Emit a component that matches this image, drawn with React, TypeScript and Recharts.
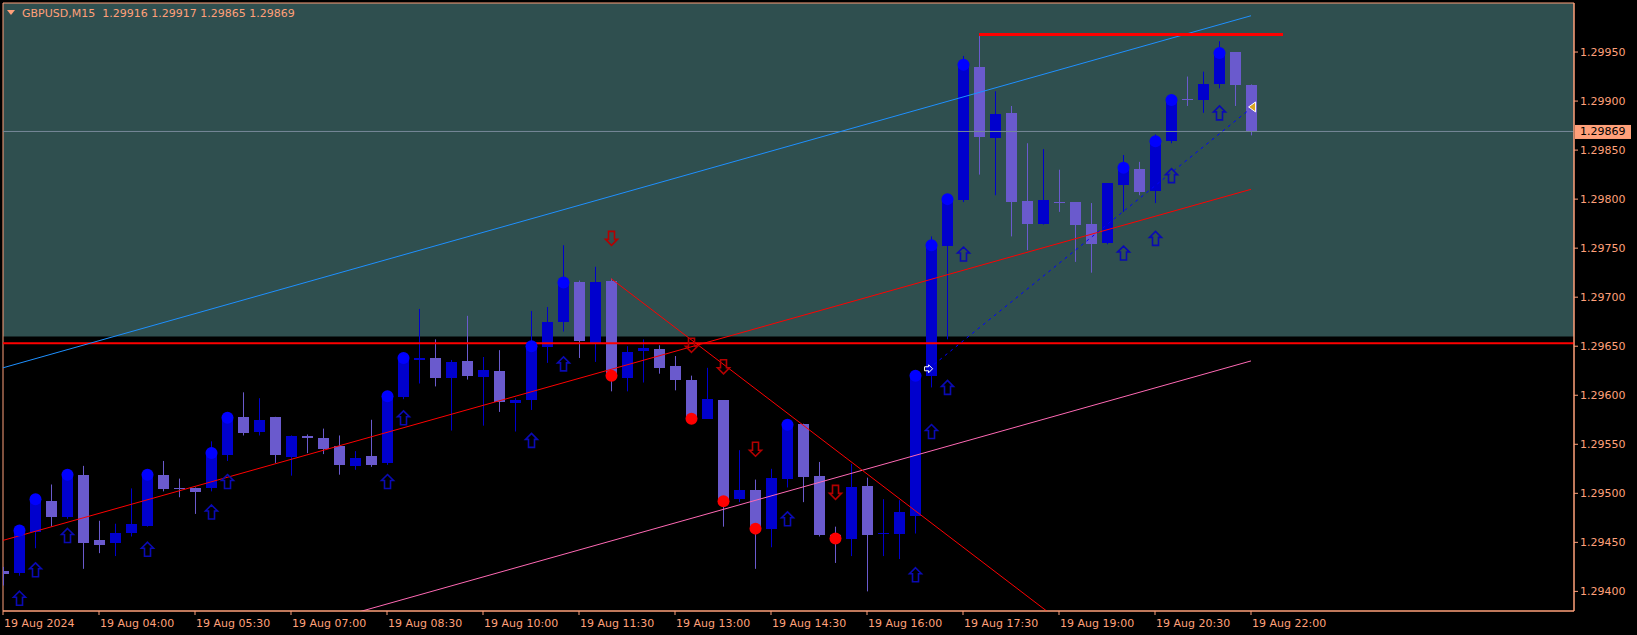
import React from 'react';
import {
  ComposedChart,
  Bar,
  Line,
  Scatter,
  XAxis,
  YAxis,
  ReferenceArea,
  ReferenceLine,
} from 'recharts';

// GBPUSD M15, bars 0..78 (02:30 .. 22:00)
const opens = [
  1.29421, 1.29419, 1.29461, 1.29492, 1.29476, 1.29519, 1.29452, 1.29449, 1.2946, 1.29467,
  1.29519, 1.29505, 1.29505, 1.29505, 1.29539, 1.29578, 1.29563, 1.29578, 1.29537, 1.29558,
  1.29556, 1.29548, 1.29528, 1.29538, 1.29531, 1.29598, 1.29636, 1.29638, 1.29618, 1.29635,
  1.29619, 1.29625, 1.29592, 1.29595, 1.29649, 1.29675, 1.29715, 1.29653, 1.29717, 1.29618,
  1.29645, 1.29647, 1.2963, 1.29616, 1.29576, 1.29595, 1.29494, 1.29503, 1.29464, 1.29515,
  1.29571, 1.29518, 1.29457, 1.29453, 1.29507, 1.29459, 1.29459, 1.29477, 1.2962, 1.29752,
  1.29799, 1.29935, 1.29862, 1.29888, 1.29798, 1.29775, 1.29797, 1.29797, 1.29775, 1.29755,
  1.29814, 1.29831, 1.29808, 1.29859, 1.29902, 1.29901, 1.29917, 1.2995, 1.29916,
];
const highs = [
  1.29425, 1.29466, 1.29498, 1.29509, 1.29523, 1.29528, 1.29472, 1.29469, 1.29505, 1.29522,
  1.29533, 1.29515, 1.29506, 1.29553, 1.2958, 1.29603, 1.29597, 1.29578, 1.29559, 1.2956,
  1.29566, 1.29559, 1.29543, 1.29575, 1.29602, 1.29641, 1.29688, 1.29657, 1.29636, 1.29681,
  1.29639, 1.29646, 1.29597, 1.29686, 1.2969, 1.29753, 1.29717, 1.29731, 1.29719, 1.2965,
  1.29657, 1.29651, 1.2964, 1.2962, 1.29628, 1.29595, 1.29544, 1.29514, 1.29525, 1.29572,
  1.29571, 1.29532, 1.29466, 1.2953, 1.29516, 1.29494, 1.29493, 1.29624, 1.29762, 1.29804,
  1.29946, 1.29968, 1.2991, 1.29895, 1.29857, 1.29851, 1.2983, 1.29797, 1.29796, 1.29816,
  1.29845, 1.29838, 1.29866, 1.29905, 1.29925, 1.2993, 1.29961, 1.2995, 1.29917,
];
const lows = [
  1.29406, 1.29416, 1.29444, 1.29466, 1.29474, 1.29423, 1.29439, 1.29436, 1.29456, 1.29466,
  1.29502, 1.29496, 1.29479, 1.29502, 1.29533, 1.29559, 1.29559, 1.29531, 1.29518, 1.29541,
  1.2954, 1.29519, 1.29524, 1.29527, 1.29529, 1.29596, 1.29612, 1.29609, 1.29564, 1.29616,
  1.29569, 1.29583, 1.29563, 1.29585, 1.29633, 1.29665, 1.29638, 1.29634, 1.29604, 1.29604,
  1.29613, 1.29622, 1.29605, 1.29573, 1.29576, 1.29466, 1.29491, 1.29423, 1.29445, 1.29506,
  1.29491, 1.29456, 1.29429, 1.29436, 1.294, 1.29436, 1.29433, 1.29459, 1.29608, 1.29657,
  1.29797, 1.29825, 1.29804, 1.29762, 1.29748, 1.29774, 1.29787, 1.29736, 1.29725, 1.29754,
  1.29787, 1.29804, 1.29796, 1.29857, 1.29895, 1.29888, 1.29913, 1.29895, 1.29865,
];
const closes = [
  1.29418, 1.29462, 1.29494, 1.29476, 1.29519, 1.29449, 1.29447, 1.2946, 1.29469, 1.29519,
  1.29504, 1.29504, 1.29501, 1.29541, 1.29577, 1.29562, 1.29575, 1.29539, 1.29558, 1.29556,
  1.29545, 1.29529, 1.29536, 1.29529, 1.29599, 1.29638, 1.29638, 1.29618, 1.29634, 1.2962,
  1.29626, 1.29593, 1.29595, 1.2965, 1.29675, 1.29715, 1.29655, 1.29716, 1.2962, 1.29644,
  1.29648, 1.29628, 1.29616, 1.29576, 1.29596, 1.29492, 1.29503, 1.29464, 1.29516, 1.2957,
  1.29517, 1.29457, 1.29454, 1.29506, 1.29457, 1.2946, 1.29481, 1.2962, 1.29753, 1.298,
  1.29937, 1.29863, 1.29887, 1.29797, 1.29775, 1.29799, 1.29796, 1.29774, 1.29754, 1.29816,
  1.29832, 1.29807, 1.29859, 1.29901, 1.29901, 1.29917, 1.29949, 1.29916, 1.29869,
];

// signal markers
const upBars = [1, 2, 4, 9, 13, 14, 24, 25, 33, 35, 49, 57, 58, 59, 60, 70, 72, 73, 76];
const upArrowPrices = [
  1.29393, 1.29422, 1.29457, 1.29443, 1.29481, 1.29512, 1.29512, 1.29577, 1.29554, 1.29632,
  1.29474, 1.29417, 1.29563, 1.29608, 1.29744, 1.29745, 1.2976, 1.29824, 1.29888,
];
const downBars = [38, 43, 45, 47, 52];
const downArrowPrices = [1.2976, 1.29651, 1.29629, 1.29545, 1.29501];

// trend objects: [bar, price]
const channelUpper = [[0, 1.29628], [78, 1.29987]];
const channelMid = [[0, 1.29452], [78, 1.2981]];
const channelLower = [[0, 1.29277], [78, 1.29635]];
const downTrend = [[38, 1.29719], [78, 1.29221]];
const projection = [[57.85, 1.29627], [78.1, 1.29894]];
const dayHigh = [[61, 1.29968], [80, 1.29968]];
const supportLevel = 1.29653;
const zoneBottom = 1.2966;
const bidPrice = 1.29869;

const tickBars = [0, 6, 12, 18, 24, 30, 36, 42, 48, 54, 60, 66, 72, 78];
const tickLabels = [
  '19 Aug 2024', '19 Aug 04:00', '19 Aug 05:30', '19 Aug 07:00', '19 Aug 08:30',
  '19 Aug 10:00', '19 Aug 11:30', '19 Aug 13:00', '19 Aug 14:30', '19 Aug 16:00',
  '19 Aug 17:30', '19 Aug 19:00', '19 Aug 20:30', '19 Aug 22:00',
];
const priceTicks = [
  1.294, 1.2945, 1.295, 1.2955, 1.296, 1.2965, 1.297, 1.2975, 1.298, 1.2985, 1.299, 1.2995,
];

const X_MAX = 98.1875;
const Y_MIN = 1.2938;
const Y_MAX = 1.3;
const AXIS = '#FFA07A';
const BULL = '#0000CD';
const BEAR = '#6A5ACD';
const FONT = '"DejaVu Sans", sans-serif';

const candles = opens.map((o, i) => ({ i, o, h: highs[i], l: lows[i], c: closes[i] }));
const toPts = (arr: number[][]) => arr.map(([i, p]) => ({ i, p }));
const bullDots = upBars.map((i) => ({ i, p: closes[i] }));
const bearDots = downBars.map((i) => ({ i, p: closes[i] }));
const upArrows = upBars.map((i, k) => ({ i, p: upArrowPrices[k] }));
const downArrows = downBars.map((i, k) => ({ i, p: downArrowPrices[k] }));

const Candle = (props: any) => {
  const { x, y, width, height, payload } = props;
  if (!payload) return null;
  const { o, h, l, c } = payload;
  const top = Math.min(y, y + height);
  const span = Math.abs(height);
  const py = (v: number) => top + ((h - v) / (h - l || 1e-9)) * span;
  const cx = Math.round(x + width / 2);
  const b1 = Math.round(py(Math.max(o, c)));
  const b2 = Math.round(py(Math.min(o, c)));
  const color = c >= o ? BULL : BEAR;
  return (
    <g>
      <line x1={cx + 0.5} x2={cx + 0.5} y1={top} y2={top + span} stroke={color} strokeWidth={1} />
      <rect x={cx - 5} y={b1} width={11} height={Math.max(b2 - b1, 1)} fill={color} />
    </g>
  );
};

const Dot = (color: string) => (props: any) => (
  <circle cx={props.cx + 0.5} cy={props.cy} r={6} fill={color} />
);

const UpArrow = (props: any) => {
  const { cx, cy } = props;
  const x = cx + 0.5;
  const pts = [
    [x, cy - 7], [x + 6, cy - 1], [x + 3, cy - 1], [x + 3, cy + 7],
    [x - 3, cy + 7], [x - 3, cy - 1], [x - 6, cy - 1],
  ];
  return <polygon points={pts.map((q) => q.join(',')).join(' ')} fill="none" stroke="#0A0AB4" strokeWidth={1.6} />;
};

const DownArrow = (props: any) => {
  const { cx, cy } = props;
  const x = cx + 0.5;
  const pts = [
    [x, cy + 7], [x + 6, cy + 1], [x + 3, cy + 1], [x + 3, cy - 7],
    [x - 3, cy - 7], [x - 3, cy + 1], [x - 6, cy + 1],
  ];
  return <polygon points={pts.map((q) => q.join(',')).join(' ')} fill="none" stroke="#B40000" strokeWidth={1.6} />;
};

const StartMark = (props: any) => {
  const { cx, cy } = props;
  const pts = [[cx + 4, cy], [cx, cy - 4], [cx, cy - 2], [cx - 4, cy - 2], [cx - 4, cy + 2], [cx, cy + 2], [cx, cy + 4]];
  return <polygon points={pts.map((q) => q.join(',')).join(' ')} fill="none" stroke="#FFFFFF" strokeWidth={1} />;
};

const EndMark = (props: any) => {
  const { cx, cy } = props;
  const pts = [[cx - 4, cy], [cx + 3, cy - 5], [cx + 3, cy + 5]];
  return <polygon points={pts.map((q) => q.join(',')).join(' ')} fill="#DAA520" stroke="#FFFFFF" strokeWidth={1} />;
};

const TimeTick = (props: any) => {
  const { x, y, payload } = props;
  const k = tickBars.indexOf(payload.value);
  return (
    <text x={x + 1} y={y + 9.5} fill={AXIS} fontSize={11} fontFamily={FONT} textAnchor="start">
      {tickLabels[k]}
    </text>
  );
};

const PriceTick = (props: any) => {
  const { x, y, payload } = props;
  return (
    <text x={x} y={y + 4} fill={AXIS} fontSize={11} fontFamily={FONT} textAnchor="start">
      {Number(payload.value).toFixed(5)}
    </text>
  );
};

const BidLabel = (props: any) => {
  const { viewBox } = props;
  if (!viewBox) return null;
  const x = viewBox.x + viewBox.width;
  const y = viewBox.y;
  return (
    <g>
      <rect x={x + 1} y={y - 6.5} width={56} height={14} fill={AXIS} />
      <text x={x + 6} y={y + 4} fill="#000" fontSize={11} fontFamily={FONT}>
        {bidPrice.toFixed(5)}
      </text>
    </g>
  );
};

const App = () => {
  return (
    <div style={{ position: 'absolute', left: 0, top: 0, width: 1637, height: 635, background: '#000' }}>
      <ComposedChart
        width={1637}
        height={635}
        data={candles}
        margin={{ top: 3, right: 0, bottom: 0, left: 3 }}
      >
        <XAxis
          dataKey="i"
          type="number"
          domain={[0, X_MAX]}
          allowDataOverflow
          ticks={tickBars}
          interval={0}
          height={24}
          tickSize={4}
          tickMargin={2}
          stroke={AXIS}
          tick={<TimeTick />}
        />
        <YAxis
          orientation="right"
          type="number"
          domain={[Y_MIN, Y_MAX]}
          allowDataOverflow
          ticks={priceTicks}
          interval={0}
          width={63}
          tickSize={4}
          tickMargin={2}
          stroke={AXIS}
          tick={<PriceTick />}
        />
        <ReferenceArea x1={0} x2={X_MAX} y1={zoneBottom} y2={Y_MAX} fill="#2F4F4F" fillOpacity={1} stroke="none" />
        <ReferenceArea x1={0} x2={X_MAX} y1={Y_MIN} y2={Y_MAX} fill="none" stroke={AXIS} ifOverflow="visible" />
        <Bar
          dataKey={(d: any) => [d.l, d.h]}
          barSize={11}
          shape={<Candle />}
          isAnimationActive={false}
        />
        <ReferenceLine y={bidPrice} stroke="#778899" strokeWidth={1} label={<BidLabel />} />
        <ReferenceLine y={supportLevel} stroke="#FF0000" strokeWidth={2} />
        <Line data={toPts(channelUpper)} dataKey="p" stroke="#1E90FF" strokeWidth={1} dot={false} isAnimationActive={false} />
        <Line data={toPts(channelMid)} dataKey="p" stroke="#FF0000" strokeWidth={1} dot={false} isAnimationActive={false} />
        <Line data={toPts(channelLower)} dataKey="p" stroke="#FF69B4" strokeWidth={1} dot={false} isAnimationActive={false} />
        <Line data={toPts(downTrend)} dataKey="p" stroke="#FF0000" strokeWidth={1} dot={false} isAnimationActive={false} />
        <Line data={toPts(projection)} dataKey="p" stroke="#0000FF" strokeWidth={1} strokeDasharray="3 4" dot={false} isAnimationActive={false} />
        <Line data={toPts(dayHigh)} dataKey="p" stroke="#FF0000" strokeWidth={3} dot={false} isAnimationActive={false} />
        <Scatter data={upArrows} dataKey="p" shape={<UpArrow />} isAnimationActive={false} />
        <Scatter data={downArrows} dataKey="p" shape={<DownArrow />} isAnimationActive={false} />
        <Scatter data={bullDots} dataKey="p" shape={Dot('#0000FF')} isAnimationActive={false} />
        <Scatter data={bearDots} dataKey="p" shape={Dot('#FF0000')} isAnimationActive={false} />
        <Scatter data={[toPts(projection)[0]]} dataKey="p" shape={<StartMark />} isAnimationActive={false} />
        <Scatter data={[toPts(projection)[1]]} dataKey="p" shape={<EndMark />} isAnimationActive={false} />
      </ComposedChart>
      <svg style={{ position: 'absolute', left: 0, top: 0, pointerEvents: 'none' }} width={420} height={24}>
        <polygon points="7,10 15,10 11,15" fill={AXIS} />
        <text x={22} y={16.5} fill={AXIS} fontSize={11} fontFamily={FONT} style={{ whiteSpace: 'pre' }}>
          {'GBPUSD,M15  1.29916 1.29917 1.29865 1.29869'}
        </text>
      </svg>
    </div>
  );
};

export default App;
